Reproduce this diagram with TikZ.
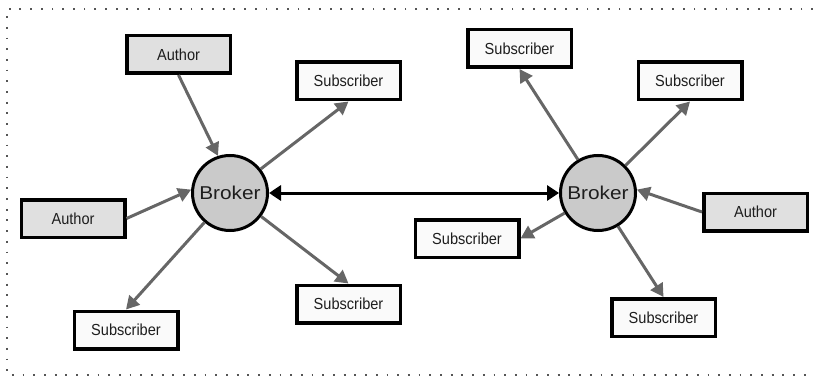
\documentclass[tikz,border=0pt]{standalone}
\usepackage{fontspec}
\setmainfont{Liberation Sans}
\newfontfamily\boxfont[FakeStretch=0.91]{Liberation Sans}
\newfontfamily\brkfont[FakeStretch=1.12]{Liberation Sans}
\usetikzlibrary{arrows.meta}
\definecolor{authfill}{HTML}{E0E0E0}
\definecolor{subfill}{HTML}{FAFAFA}
\definecolor{brkfill}{HTML}{CACACA}
\definecolor{arrgray}{HTML}{666666}
\definecolor{dotgray}{HTML}{555555}
\definecolor{txt}{HTML}{1E1E1E}
\begin{document}
\begin{tikzpicture}[x=1pt,y=-1pt,
  boxbase/.style={draw=black, line width=3.5pt, minimum width=103.5pt, minimum height=37.5pt, inner sep=0pt, text=txt, font=\boxfont\fontsize{16}{19}\selectfont},
  authbox/.style={boxbase, fill=authfill},
  subbox/.style={boxbase, fill=subfill},
  brknode/.style={circle, draw=black, line width=3pt, fill=brkfill, minimum size=75pt, inner sep=0pt, text=txt, font=\brkfont\fontsize{18.6}{22}\selectfont},
  garrow/.style={draw=arrgray, line width=3pt, -{Triangle[length=13pt,width=14pt]}},
  barrow/.style={draw=black, line width=3pt, {Triangle[length=12pt,width=15pt]}-{Triangle[length=12pt,width=15pt]}},
  frame/.style={draw=dotgray, line width=1.8pt, dash pattern=on 1.8pt off 8.9pt}
]
\useasboundingbox (0,0) rectangle (813,377);
\draw[frame] (813,9) -- (7,9) -- (7,375) -- (813,375);

\node[authbox] (aT) at (178.5,54.5) {Author};
\node[subbox] (sTR1) at (348.5,81) {Subscriber};
\node[brknode] (bL) at (230,193) {Broker};
\node[authbox] (aL) at (73,218.5) {Author};
\node[subbox] (sBL) at (126,330) {Subscriber};
\node[subbox] (sBR1) at (348.5,304) {Subscriber};

\node[subbox] (sT) at (519.5,48.5) {Subscriber};
\node[subbox] (sTR2) at (690,81) {Subscriber};
\node[brknode] (bR) at (598,193) {Broker};
\node[authbox] (aR) at (755.5,212) {Author};
\node[subbox] (sL) at (467,238.5) {Subscriber};
\node[subbox] (sB) at (663.5,317.5) {Subscriber};

\draw[garrow] (aT.south) -- (bL.108);
\draw[garrow] (bL.38) -- (sTR1.south);
\draw[garrow] (aL.east) -- (bL.175);
\draw[garrow] (bL.229) -- (sBL.north);
\draw[garrow] (bL.323) -- (sBR1.north);
\draw[barrow] (bL.east) -- (bR.west);
\draw[garrow] (bR.121) -- (sT.south);
\draw[garrow] (bR.45) -- (sTR2.south);
\draw[garrow] (aR.west) -- (bR.5);
\draw[garrow] (bR.211) -- (sL.east);
\draw[garrow] (bR.301) -- (sB.north);
\end{tikzpicture}
\end{document}
